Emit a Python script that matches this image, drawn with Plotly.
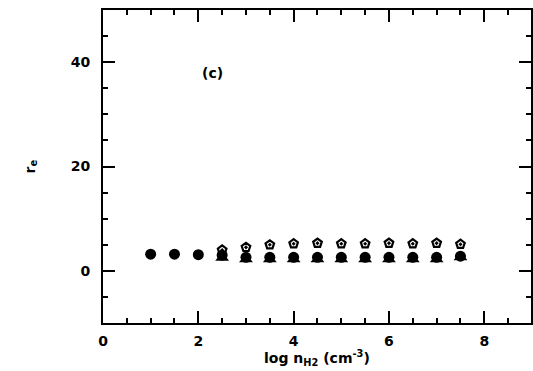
import plotly.graph_objects as go

# data
x_circ = [1.0, 1.5, 2.0, 2.5, 3.0, 3.5, 4.0, 4.5, 5.0, 5.5, 6.0, 6.5, 7.0, 7.5]
y_circ = [3.2, 3.2, 3.1, 3.0, 2.6, 2.6, 2.6, 2.6, 2.6, 2.6, 2.6, 2.6, 2.6, 2.8]
x_tri = [2.5, 3.0, 3.5, 4.0, 4.5, 5.0, 5.5, 6.0, 6.5, 7.0, 7.5]
y_tri = [2.5, 2.2, 2.2, 2.2, 2.2, 2.2, 2.2, 2.2, 2.2, 2.2, 2.6]
x_open = [2.5, 3.0, 3.5, 4.0, 4.5, 5.0, 5.5, 6.0, 6.5, 7.0, 7.5]
y_open = [4.0, 4.5, 5.0, 5.2, 5.3, 5.2, 5.2, 5.3, 5.2, 5.3, 5.1]

x_ticks = [0, 2, 4, 6, 8]
y_ticks = [0, 20, 40]

FONT = "DejaVu Sans"

fig = go.Figure()
fig.add_trace(go.Scatter(x=x_circ, y=y_circ, mode="markers",
                         marker=dict(symbol="circle", size=11, color="black"),
                         showlegend=False))
fig.add_trace(go.Scatter(x=x_tri, y=y_tri, mode="markers",
                         marker=dict(symbol="triangle-up", size=12, color="black"),
                         showlegend=False))
fig.add_trace(go.Scatter(x=x_open, y=y_open, mode="markers",
                         marker=dict(symbol="pentagon-open-dot", size=9, color="black",
                                     line=dict(width=2.2, color="black")),
                         showlegend=False))

axis_common = dict(showline=True, linecolor="black", linewidth=2, mirror="allticks",
                   ticks="inside", tickcolor="black", tickwidth=2, ticklen=12,
                   showgrid=False, zeroline=False,
                   tickfont=dict(family=FONT, size=14, color="black", weight="bold"))

fig.update_xaxes(range=[0, 8.98], tickvals=x_ticks, ticktext=[str(v) for v in x_ticks],
                 minor=dict(dtick=0.5, tick0=0, ticks="inside", ticklen=5,
                            tickcolor="black", tickwidth=1.5),
                 ticklabelstandoff=4, **axis_common)
fig.update_yaxes(range=[-10, 50], tickvals=y_ticks, ticktext=[str(v) for v in y_ticks],
                 minor=dict(dtick=5, tick0=0, ticks="inside", ticklen=5,
                            tickcolor="black", tickwidth=1.5),
                 ticklabelstandoff=8, **axis_common)

fig.add_annotation(x=2.3, y=38, xref="x", yref="y", text="(c)", showarrow=False,
                   font=dict(family=FONT, size=14, color="black", weight="bold"))
fig.add_annotation(x=4.5, y=0, xref="x", yref="paper", yshift=-35,
                   text="log n<sub>H2</sub> (cm<sup>-3</sup>)", showarrow=False,
                   yanchor="middle",
                   font=dict(family=FONT, size=14, color="black", weight="bold"))
fig.add_annotation(x=0, y=0.5, xref="paper", yref="paper", xshift=-84,
                   text="r<sub>e</sub>", showarrow=False, textangle=-90,
                   font=dict(family=FONT, size=14, color="black", weight="bold"))

fig.update_layout(width=533, height=371, margin=dict(l=103, r=0, t=10, b=48),
                  plot_bgcolor="white", paper_bgcolor="white")

fig.write_html("out.html")
